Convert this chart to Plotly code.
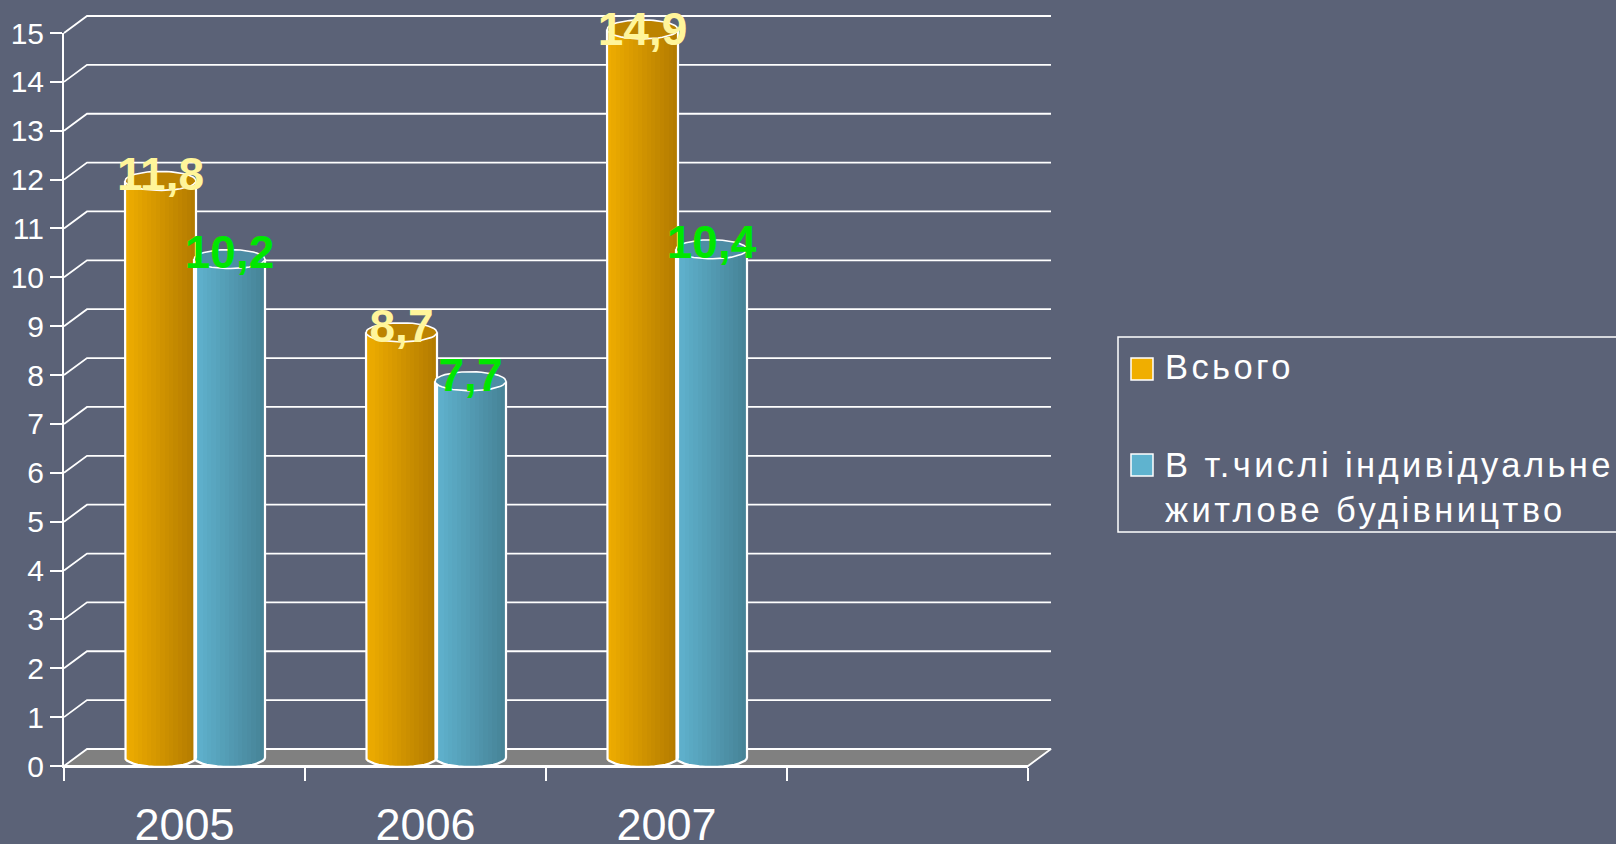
import math
import plotly.graph_objects as go

# ---------- data ----------
years = ["2005", "2006", "2007", " "]
total = [11.8, 8.7, 14.9]
individual = [10.2, 7.7, 10.4]
total_labels = ["11,8", "8,7", "14,9"]
individual_labels = ["10,2", "7,7", "10,4"]
y_ticks = list(range(0, 16))
name_total = "Всього"
name_individual = "В т.числі індивідуальне<br>житлове будівництво"

# ---------- style ----------
W, H = 1616, 844
BG = "#5B6277"
FRONT_L, FRONT_R, Y0, Y15 = 64, 1028, 766, 33
PX_X = (FRONT_R - FRONT_L) / 4
PX_Y = (Y0 - Y15) / 15
DX, DY = 23 / PX_X, 17 / PX_Y     # depth of the fake 3D box
BAR_W = 71 / PX_X
RY = 9.5 / PX_Y                   # lid half height
CY = 8.5 / PX_Y                   # cylinder axis lift (mid depth)
SHIFT = 11.5 / PX_X
OVERLAP = 2 / PX_X                # second cylinder slides over the first
N = 16
ORANGE = ((240, 174, 0), (178, 122, 0))
BLUE = ((96, 180, 208), (70, 130, 150))
LID_ORANGE = "#BC8300"
LID_BLUE = "#4E8DA5"
x_left, x_right = -0.5, 3.5
# full-figure data ranges, same scale as the visible axes
FULL_X = [x_left - FRONT_L / PX_X, x_left + (W - FRONT_L) / PX_X]
FULL_Y = [-(H - Y0) / PX_Y, Y0 / PX_Y]
# label placement relative to each lid, in pixels upward
LABEL_UP_TOTAL = [2, 2, -4]
LABEL_UP_INDIVIDUAL = [3, 2, 3]


def centre(i, side):
    return i + SHIFT + (side - 0.5) * BAR_W - side * OVERLAP


def mix(pair, t):
    a, b = pair
    return "rgb(%d,%d,%d)" % tuple(round(a[i] + (b[i] - a[i]) * t) for i in range(3))


def cylinder_bar(values, side, pair):
    xs, hs, bs, cs = [], [], [], []
    sw = BAR_W / N
    for i, v in enumerate(values):
        left = centre(i, side) - BAR_W / 2
        for k in range(N):
            t = (k + 0.5) / N
            arc = RY * math.sqrt(max(0, 1 - (2 * t - 1) ** 2))
            xs.append(left + sw * (k + 0.5))
            bs.append(CY - arc)
            hs.append(v)
            cs.append(mix(pair, t))
    return go.Bar(x=xs, y=hs, base=bs, width=[sw * 1.15] * len(xs),
                  marker=dict(color=cs, line=dict(width=0)), showlegend=False,
                  xaxis="x3", yaxis="y3", hoverinfo="skip")


def lids(values, side, colour):
    xs, ys = [], []
    for i, v in enumerate(values):
        cx = centre(i, side)
        for a in range(0, 361, 8):
            xs.append(cx + BAR_W / 2 * math.cos(math.radians(a)))
            ys.append(v + CY + RY * math.sin(math.radians(a)))
        xs.append(None)
        ys.append(None)
    return go.Scatter(x=xs, y=ys, mode="lines", fill="toself", fillcolor=colour,
                      line=dict(color="white", width=1.6), showlegend=False,
                      xaxis="x3", yaxis="y3", hoverinfo="skip")


def outlines(values, side):
    xs, ys = [], []
    for i, v in enumerate(values):
        cx = centre(i, side)
        xs.append(cx - BAR_W / 2)
        ys.append(v + CY)
        xs.append(cx - BAR_W / 2)
        ys.append(CY)
        for a in range(180, 361, 10):
            xs.append(cx + BAR_W / 2 * math.cos(math.radians(a)))
            ys.append(CY + RY * math.sin(math.radians(a)))
        xs.append(cx + BAR_W / 2)
        ys.append(v + CY)
        xs.append(None)
        ys.append(None)
    return go.Scatter(x=xs, y=ys, mode="lines", line=dict(color="white", width=2.2),
                      showlegend=False, xaxis="x3", yaxis="y3", hoverinfo="skip")


def value_labels(values, texts, side, colour, up):
    xs = [centre(i, side) for i in range(len(values))]
    ys = [v + CY + u / PX_Y for v, u in zip(values, up)]
    return go.Scatter(x=xs, y=ys, mode="text", text=texts, textposition="middle center",
                      textfont=dict(family="Liberation Sans", size=46, color=colour, weight="bold"),
                      showlegend=False, xaxis="x3", yaxis="y3", hoverinfo="skip")


def legend_entry(name, group):
    return go.Scatter(x=[None], y=[None], mode="markers", name=name, legendgroup=group,
                      marker=dict(color="rgba(0,0,0,0)", size=12), xaxis="x3", yaxis="y3",
                      hoverinfo="skip")


gx, gy = [], []
for v in y_ticks[1:]:
    gx += [x_left, x_left + DX, x_right + DX, None]
    gy += [v, v + DY, v + DY, None]

fig = go.Figure()
# category axis carrier
fig.add_trace(go.Scatter(x=years, y=[None] * 4, xaxis="x", yaxis="y", showlegend=False,
                         hoverinfo="skip"))
# back wall grid and floor
fig.add_trace(go.Scatter(x=gx, y=gy, mode="lines", line=dict(color="white", width=1.8),
                         showlegend=False, xaxis="x2", yaxis="y2", hoverinfo="skip"))
fig.add_trace(go.Scatter(x=[x_left, x_right, x_right + DX, x_left + DX, x_left],
                         y=[0, 0, DY, DY, 0], mode="lines", fill="toself",
                         fillcolor="#808080", line=dict(color="white", width=1.8),
                         showlegend=False, xaxis="x2", yaxis="y2", hoverinfo="skip"))
# cylinders
fig.add_trace(cylinder_bar(total, 0, ORANGE))
fig.add_trace(cylinder_bar(individual, 1, BLUE))
fig.add_trace(outlines(total, 0))
fig.add_trace(outlines(individual, 1))
fig.add_trace(lids(total, 0, LID_ORANGE))
fig.add_trace(lids(individual, 1, LID_BLUE))
fig.add_trace(value_labels(total, total_labels, 0, "#FFF59A", LABEL_UP_TOTAL))
fig.add_trace(value_labels(individual, individual_labels, 1, "#00E600", LABEL_UP_INDIVIDUAL))
fig.add_trace(legend_entry(name_total, "a"))
fig.add_trace(legend_entry(name_individual, "b"))

dom_x = [FRONT_L / W, FRONT_R / W]
axis_font = dict(family="Liberation Sans", color="white")
hidden = dict(visible=False, domain=[0, 1], fixedrange=True)
fig.update_layout(
    width=W, height=H, autosize=False,
    margin=dict(l=0, r=0, t=0, b=0, autoexpand=False),
    paper_bgcolor=BG, plot_bgcolor="rgba(0,0,0,0)",
    barmode="overlay", bargap=0,
    font=dict(family="Liberation Sans", color="white"),
    xaxis=dict(domain=dom_x, type="category", categoryorder="array", categoryarray=years,
               range=[x_left, x_right], tickson="boundaries", ticks="outside", ticklen=13,
               tickwidth=1.6, tickcolor="white", showline=True, linecolor="white", linewidth=2,
               showgrid=False, zeroline=False, anchor="y", ticklabelstandoff=18,
               tickfont=dict(size=45, **axis_font)),
    yaxis=dict(domain=[(H - Y0) / H, (H - Y15) / H], range=[0, 15], tickvals=y_ticks,
               ticks="outside", ticklen=12, tickwidth=1.6, tickcolor="white",
               showline=True, linecolor="white", linewidth=2, showgrid=False, zeroline=False,
               anchor="x", ticklabelstandoff=0, tickfont=dict(size=30, **axis_font)),
    xaxis2=dict(range=FULL_X, anchor="y2", **hidden),
    yaxis2=dict(range=FULL_Y, anchor="x2", **hidden),
    xaxis3=dict(range=FULL_X, anchor="y3", **hidden),
    yaxis3=dict(range=FULL_Y, anchor="x3", **hidden),
    legend=dict(x=1125 / W, xanchor="left", y=(H - 337) / H, yanchor="top",
                traceorder="grouped", tracegroupgap=50, bgcolor="rgba(0,0,0,0)", borderwidth=0,
                font=dict(family="Liberation Sans", size=34.5, color="white")),
    shapes=[
        dict(type="rect", xref="paper", yref="paper", x0=1118 / W, x1=1.01,
             y0=(H - 532) / H, y1=(H - 337) / H, line=dict(color="white", width=1.5)),
        dict(type="rect", xref="paper", yref="paper", x0=1131 / W, x1=1153 / W,
             y0=(H - 380) / H, y1=(H - 358) / H, fillcolor="#F0AE00",
             line=dict(color="white", width=1.5)),
        dict(type="rect", xref="paper", yref="paper", x0=1131 / W, x1=1153 / W,
             y0=(H - 476) / H, y1=(H - 454) / H, fillcolor="#5FB3CF",
             line=dict(color="white", width=1.5)),
    ],
)

fig.write_html(
    "out.html",
    config={"displayModeBar": False},
    post_script=(
        "document.body.style.margin='0';document.body.style.overflow='hidden';"
        "var s=document.createElement('style');"
        "s.textContent='.legendtext{letter-spacing:3.4px}"
        ".legend .scrollbox{clip-path:none !important}"
        ".legend{overflow:visible}';"
        "document.head.appendChild(s);"
    ),
)
